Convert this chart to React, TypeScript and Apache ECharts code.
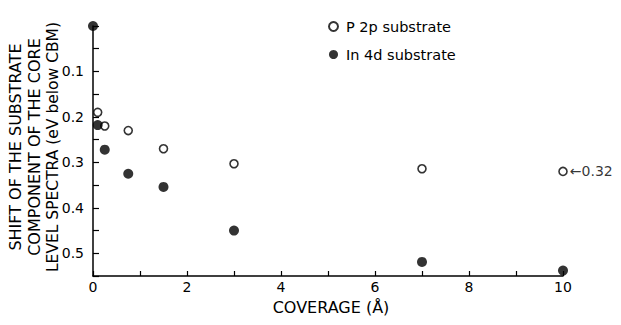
import React, { useEffect, useRef } from "react";
import * as echarts from "echarts";

const coverageP = [0.1, 0.25, 0.75, 1.5, 3, 7, 10];
const shiftP = [0.19, 0.22, 0.23, 0.27, 0.303, 0.314, 0.32];
const coverageIn = [0, 0.1, 0.25, 0.75, 1.5, 3, 7, 10];
const shiftIn = [0, 0.218, 0.272, 0.325, 0.354, 0.45, 0.519, 0.538];
const yTitleLines = [
  "SHIFT OF THE SUBSTRATE",
  "COMPONENT OF THE CORE",
  "LEVEL SPECTRA (eV below CBM)",
];
const seriesNames = ["P 2p substrate", "In 4d substrate"];
const annotation = "\u21900.32";

const FONT = "DejaVu Sans";
const INK = "#000";

export default function App() {
  const ref = useRef<HTMLDivElement>(null);
  useEffect(() => {
    if (!ref.current) return;
    const chart = echarts.init(ref.current, null, { renderer: "svg" });
    const pData = coverageP.map((x, i) => {
      const item: any = { value: [x, shiftP[i]] };
      if (i === coverageP.length - 1) {
        item.label = {
          show: true,
          position: "right",
          distance: 2,
          formatter: annotation,
          color: INK,
          fontFamily: FONT,
          fontSize: 14,
        };
      }
      return item;
    });
    chart.setOption({
      animation: false,
      backgroundColor: "#fff",
      textStyle: { fontFamily: FONT, color: INK },
      grid: { left: 93, right: 58, top: 26, bottom: 49, containLabel: false },
      legend: {
        orient: "vertical",
        left: 328,
        top: 19,
        padding: 0,
        itemGap: 13,
        itemWidth: 9,
        itemHeight: 9,
        icon: "circle",
        textStyle: { fontFamily: FONT, fontSize: 14.5, color: INK, padding: [0, 0, 0, 3] },
        data: seriesNames,
      },
      xAxis: {
        type: "value",
        min: 0,
        max: 10,
        interval: 1,
        name: "COVERAGE (\u00c5)",
        nameLocation: "middle",
        nameGap: 23,
        nameTextStyle: { fontFamily: FONT, fontSize: 16, color: INK, padding: [0, 0, 0, 6] },
        axisLine: { show: true, onZero: false, lineStyle: { color: INK, width: 1.5 } },
        axisTick: { show: true, inside: true, length: 5, lineStyle: { color: INK, width: 1.2 } },
        axisLabel: {
          color: INK,
          fontFamily: FONT,
          fontSize: 14,
          margin: 4,
          formatter: (v: number) => (Math.round(v) % 2 === 0 ? String(Math.round(v)) : ""),
        },
        splitLine: { show: false },
      },
      yAxis: {
        type: "value",
        inverse: true,
        min: 0,
        max: 0.55,
        interval: 0.05,
        axisLine: { show: true, onZero: false, lineStyle: { color: INK, width: 1.5 } },
        axisTick: { show: true, inside: true, length: 6, lineStyle: { color: INK, width: 1.2 } },
        axisLabel: {
          color: INK,
          fontFamily: FONT,
          fontSize: 14,
          margin: 9,
          formatter: (v: number) => {
            const k = Math.round(v * 100);
            return k > 0 && k < 55 && k % 10 === 0 ? (k / 100).toFixed(1) : "";
          },
        },
        splitLine: { show: false },
      },
      graphic: yTitleLines.map((t, i) => ({
        type: "text",
        x: 15 + i * 19,
        y: 147,
        rotation: Math.PI / 2,
        style: {
          text: t,
          fontFamily: FONT,
          fontSize: i === 2 ? 15.5 : 16,
          fill: INK,
          align: "center",
          verticalAlign: "middle",
        },
      })),
      series: [
        {
          name: seriesNames[0],
          type: "scatter",
          symbol: "circle",
          symbolSize: 8,
          itemStyle: { color: "#fff", borderColor: INK, borderWidth: 1.6 },
          data: pData,
          z: 3,
        },
        {
          name: seriesNames[1],
          type: "scatter",
          symbol: "circle",
          symbolSize: 10,
          itemStyle: { color: INK },
          data: coverageIn.map((x, i) => [x, shiftIn[i]]),
          z: 4,
        },
      ],
    });
    return () => chart.dispose();
  }, []);
  return <div ref={ref} style={{ width: 621, height: 325, margin: -8 }} />;
}
